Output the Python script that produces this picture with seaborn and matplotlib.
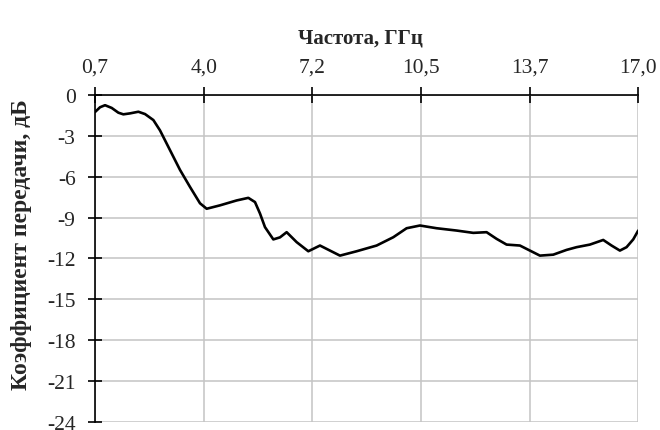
import numpy as np
import pandas as pd
import matplotlib
matplotlib.use("Agg")
import matplotlib.pyplot as plt
import seaborn as sns

# frequency, GHz and transmission coefficient, dB
freq = [0.7, 0.85, 1.0, 1.2, 1.4, 1.55, 1.75, 2.0, 2.2, 2.45, 2.65, 2.95, 3.25,
        3.55, 3.85, 4.05, 4.45, 4.95, 5.3, 5.5, 5.65, 5.8, 6.05, 6.25, 6.45,
        6.75, 7.1, 7.45, 7.75, 8.05, 8.55, 9.15, 9.65, 10.05, 10.45, 10.95,
        11.55, 12.05, 12.45, 12.75, 13.05, 13.45, 13.75, 14.05, 14.45, 14.85,
        15.15, 15.55, 15.95, 16.2, 16.45, 16.65, 16.85, 17.0]
gain = [-1.25, -0.9, -0.75, -0.95, -1.3, -1.42, -1.35, -1.23, -1.4, -1.84,
        -2.6, -4.05, -5.5, -6.75, -7.95, -8.35, -8.1, -7.74, -7.55, -7.86,
        -8.7, -9.7, -10.6, -10.45, -10.07, -10.8, -11.47, -11.05, -11.42,
        -11.79, -11.47, -11.05, -10.44, -9.78, -9.58, -9.78, -9.95, -10.12,
        -10.07, -10.56, -10.98, -11.05, -11.42, -11.79, -11.72, -11.37, -11.17,
        -10.98, -10.64, -11.05, -11.42, -11.17, -10.6, -9.95]

x_ticks = np.linspace(0.7, 17.0, 6)
x_labels = ["0,7", "4,0", "7,2", "10,5", "13,7", "17,0"]
y_ticks = [0, -3, -6, -9, -12, -15, -18, -21, -24]

df = pd.DataFrame({"freq": freq, "gain": gain})

sns.set_style("whitegrid")
plt.rcParams["font.family"] = ["Liberation Serif", "DejaVu Serif"]

fig = plt.figure(figsize=(6.6, 4.31), dpi=100)
ax = fig.add_axes([0.144, 0.0186, 0.823, 0.7587])

sns.lineplot(data=df, x="freq", y="gain", color="black", linewidth=1.9, ax=ax)

ax.set_xlim(0.7, 17.0)
ax.set_ylim(-24, 0)
ax.xaxis.tick_top()
ax.xaxis.set_label_position("top")
ax.set_xticks(x_ticks)
ax.set_xticklabels(x_labels)
ax.set_yticks(y_ticks)
ax.set_yticklabels([str(v) for v in y_ticks])

ax.grid(True, color="#c4c4c4", linewidth=1.1)
for side in ["bottom", "right"]:
    ax.spines[side].set_visible(False)
for side in ["top", "left"]:
    ax.spines[side].set_visible(True)
    ax.spines[side].set_color("black")
    ax.spines[side].set_linewidth(1.2)

ax.tick_params(axis="x", which="major", top=True, direction="inout", length=12,
               width=1.2, color="black", labelsize=15.5, pad=7)
ax.tick_params(axis="y", which="major", left=True, direction="inout", length=10,
               width=1.2, color="black", labelsize=15.5, pad=9)

ax.set_xlabel("Частота, ГГц", fontsize=15, fontweight="bold")
ax.set_ylabel("Коэффициент передачи, дБ", fontsize=17, fontweight="bold")
ax.xaxis.set_label_coords(0.489, 1.16)
ax.yaxis.set_label_coords(-0.116, 0.544)

fig.savefig("out.png", dpi=100, facecolor="white")
